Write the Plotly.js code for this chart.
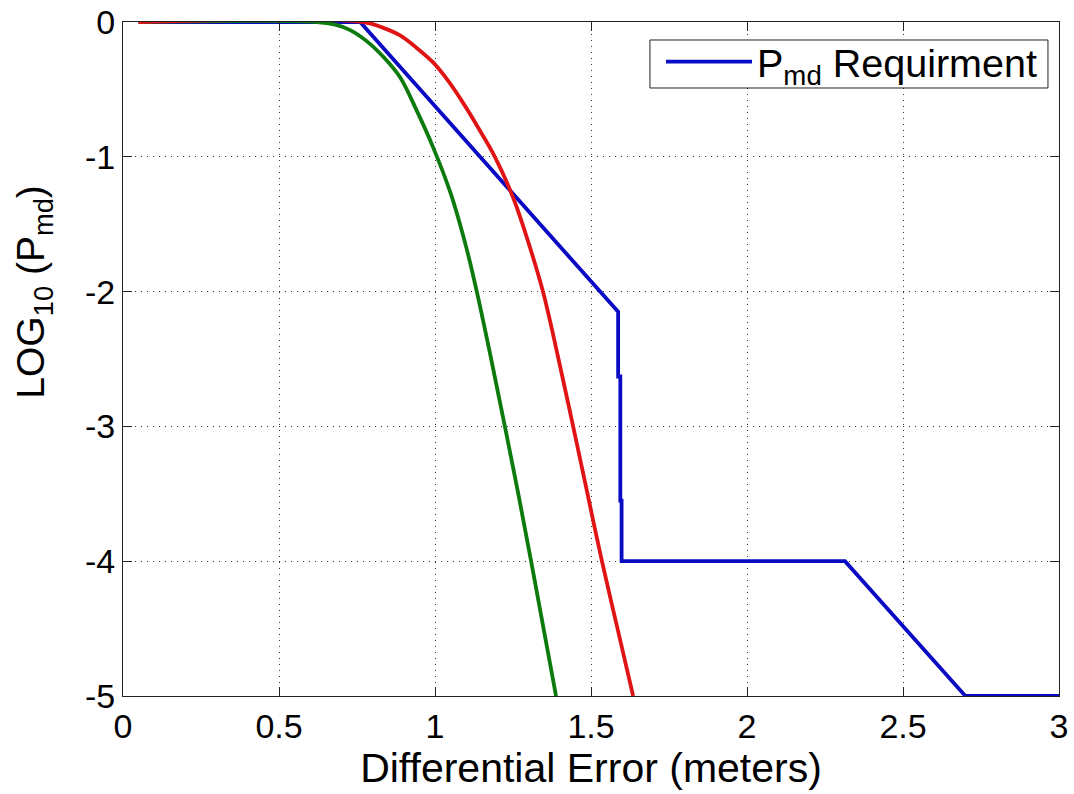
<!DOCTYPE html>
<html>
<head>
<meta charset="utf-8">
<script src="https://cdn.plot.ly/plotly-3.0.1.min.js"></script>
<style>
  html, body { margin: 0; padding: 0; background: #fff; }
  #chart { width: 1074px; height: 794px; }
</style>
</head>
<body>
<div id="chart"></div>
<script>
// Requirement curve (blue)
const reqX = [0.05, 0.76, 1.587, 1.587, 1.594, 1.594, 1.598, 1.598, 2.314, 2.70, 3.0];
const reqY = [0, 0, -2.15, -2.63, -2.63, -3.55, -3.55, -4.0, -4.0, -5.0, -5.0];

// Green curve
const greenX = [0.05, 0.62, 0.68, 0.728, 0.78, 0.835, 0.888, 0.94, 0.994, 1.05, 1.10, 1.134, 1.18, 1.224, 1.267, 1.308, 1.348, 1.388];
const greenY = [0, 0, -0.02, -0.06, -0.14, -0.26, -0.41, -0.65, -0.93, -1.27, -1.67, -2.0, -2.5, -3.0, -3.5, -4.0, -4.5, -5.0];

// Red curve
const redX = [0.05, 0.77, 0.83, 0.888, 0.94, 0.994, 1.04, 1.09, 1.14, 1.192, 1.25, 1.30, 1.346, 1.393, 1.44, 1.487, 1.535, 1.585, 1.635];
const redY = [0, 0, -0.04, -0.10, -0.19, -0.30, -0.43, -0.60, -0.79, -1.0, -1.3, -1.64, -2.0, -2.47, -2.97, -3.48, -4.0, -4.5, -5.0];

const xTicks = [0, 0.5, 1, 1.5, 2, 2.5, 3];
const xTickText = ["0", "0.5", "1", "1.5", "2", "2.5", "3"];
const yTicks = [0, -1, -2, -3, -4, -5];
const yTickText = ["0", "-1", "-2", "-3", "-4", "-5"];

const FONT = "Liberation Sans, Arial, Helvetica, sans-serif";

const traces = [
  { x: reqX, y: reqY, type: "scatter", mode: "lines", name: "P<sub>md</sub> Requirment",
    line: { color: "#0a0ac4", width: 3.8 }, showlegend: true },
  { x: greenX, y: greenY, type: "scatter", mode: "lines", name: "green",
    line: { color: "#0c7a0c", width: 3.8, shape: "spline", smoothing: 1 }, showlegend: false },
  { x: redX, y: redY, type: "scatter", mode: "lines", name: "red",
    line: { color: "#e01414", width: 3.8, shape: "spline", smoothing: 1 }, showlegend: false }
];

const axisCommon = {
  showline: true, linecolor: "#222", linewidth: 1, mirror: "ticks",
  ticks: "inside", ticklen: 9, tickcolor: "#222", tickwidth: 1,
  showgrid: true, gridcolor: "#333", gridwidth: 1, griddash: "1px,5px",
  zeroline: false, tickfont: { family: FONT, size: 34, color: "#000" }
};

const layout = {
  width: 1074, height: 794,
  margin: { l: 123, r: 15, t: 22, b: 98 },
  paper_bgcolor: "#fff", plot_bgcolor: "#fff",
  showlegend: true,
  xaxis: Object.assign({}, axisCommon, {
    range: [0, 3], tickvals: xTicks, ticktext: xTickText,
    title: { text: "Differential Error (meters)", font: { family: FONT, size: 41, color: "#000" }, standoff: 6 }
  }),
  yaxis: Object.assign({}, axisCommon, {
    range: [-5, 0], tickvals: yTicks, ticktext: yTickText
  }),
  legend: {
    x: 0.5748, xanchor: "left", y: 0.9407, yanchor: "middle",
    bgcolor: "rgba(0,0,0,0)", borderwidth: 0,
    font: { family: FONT, size: 39.5, color: "#000" },
    itemwidth: 86
  },
  shapes: [{
    type: "rect", xref: "paper", yref: "paper", layer: "above",
    x0: 0.563, x1: 0.9882, y0: 0.9021, y1: 0.9733,
    line: { color: "#222", width: 1 }, fillcolor: "#fff"
  }],
  annotations: [{
    text: "LOG<sub>10</sub> (P<sub>md</sub>)",
    xref: "paper", yref: "paper", x: -0.095, y: 0.6, xanchor: "center", yanchor: "middle",
    textangle: -90, showarrow: false,
    font: { family: FONT, size: 39, color: "#000" }
  }]
};

Plotly.newPlot("chart", traces, layout, { displayModeBar: false, staticPlot: true }).then(function (gd) {
  // lengthen the legend line sample to match the reference
  var p = gd.querySelector(".legend .legendlines path");
  if (p) p.setAttribute("d", "M5,0h86");
});
</script>
</body>
</html>
